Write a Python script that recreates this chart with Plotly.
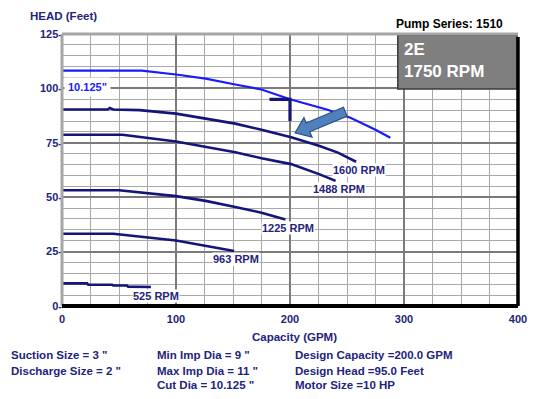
import plotly.graph_objects as go

# ---------------- data ----------------
q_cut = [0, 70, 100, 126, 152, 175, 200, 233, 253, 275, 288]
h_cut = [108.2, 108.2, 106.4, 104.5, 101.8, 99.5, 95.0, 90.2, 86.5, 81.0, 77.3]

q_1600 = [0, 40, 42, 45, 68, 100, 126, 152, 175, 201, 226, 242, 258]
h_1600 = [90.3, 90.3, 91.0, 90.3, 90.0, 88.4, 86.1, 83.8, 81.0, 77.5, 73.5, 70.5, 66.3]

q_1488 = [0, 53, 100, 126, 152, 175, 201, 226, 240]
h_1488 = [78.7, 78.7, 75.6, 73.3, 70.7, 67.9, 65.2, 60.5, 57.5]

q_1225 = [0, 50, 100, 126, 152, 175, 196]
h_1225 = [53.2, 53.2, 50.5, 48.3, 45.5, 42.9, 39.7]

q_963 = [0, 45, 100, 126, 151]
h_963 = [33.2, 33.2, 30.1, 27.8, 25.3]

q_525 = [0, 22, 23, 44, 45, 57, 58, 78]
h_525 = [10.4, 10.4, 9.8, 9.8, 9.4, 9.4, 8.9, 8.7]

speed_labels = ["1600 RPM", "1488 RPM", "1225 RPM", "963 RPM", "525 RPM"]
cut_label = '10.125"'

design_capacity = 200.0
design_head = 95.0
marker_q_start = 182
marker_h_end = 85

arrow_tail = (248.5, 89.3)
arrow_tip = (204.5, 79.6)

x_ticks = [0, 100, 200, 300, 400]
y_ticks = [0, 25, 50, 75, 100, 125]
y_ticktext = [f"{v}-" for v in y_ticks]

pump_series = "Pump Series: 1510"
model_text = ["2E", "1750 RPM"]
x_title = "Capacity (GPM)"
y_title = "HEAD (Feet)"

info_col1 = ['Suction Size = 3 "', 'Discharge Size = 2 "']
info_col2 = ['Min Imp Dia = 9 "', 'Max Imp Dia = 11 "', 'Cut Dia = 10.125 "']
info_col3 = ["Design Capacity =200.0 GPM", "Design Head =95.0 Feet", "Motor Size =10 HP"]

# ---------------- layout constants ----------------
OFF = 8  # default page body margin
PAGE_W, PAGE_H = 539, 399
PL, PR, PT, PB = 62, 521, 34, 306  # plot area in page pixels
W, H = PAGE_W - OFF, PAGE_H - OFF
ML, MT = PL - OFF, PT - OFF
MR, MB = PAGE_W - PR, PAGE_H - PB
PW, PH = PR - PL, PB - PT
XR, YR = [0, 400], [0, 125]
NAVY = "#14147a"
TXT = "#23237d"
BLUE = "#1a1aff"
FONT = "Liberation Sans, Arial, sans-serif"

def px_x(px):  # page pixel -> paper x
    return (px - PL) / PW

def px_y(py):  # page pixel -> paper y
    return (PB - py) / PH

fig = go.Figure()

curves = [
    (q_1600, h_1600), (q_1488, h_1488), (q_1225, h_1225), (q_963, h_963), (q_525, h_525)
]
for (qq, hh) in curves:
    fig.add_trace(go.Scatter(x=qq, y=hh, mode="lines",
                             line=dict(color=NAVY, width=2.6), hoverinfo="skip"))
fig.add_trace(go.Scatter(x=q_cut, y=h_cut, mode="lines",
                         line=dict(color=BLUE, width=2.2), hoverinfo="skip"))

# design point marker
fig.add_trace(go.Scatter(x=[marker_q_start, design_capacity, design_capacity],
                         y=[design_head, design_head, marker_h_end], mode="lines",
                         line=dict(color=NAVY, width=3.2), hoverinfo="skip"))

annotations = []
for (qq, hh), lab, xs in zip(curves, speed_labels, [3, 3, 3, 2, 5]):
    annotations.append(dict(x=qq[-1], y=hh[-1], xref="x", yref="y", text=lab,
                            showarrow=False, xanchor="center", yanchor="middle",
                            xshift=xs, yshift=-8.5, bgcolor="white", borderpad=0,
                            font=dict(family=FONT, size=11, color=TXT, weight="bold")))
annotations.append(dict(x=q_cut[0], y=h_cut[0], xref="x", yref="y", text=cut_label,
                        showarrow=False, xanchor="left", yanchor="middle",
                        xshift=2, yshift=-16, bgcolor="white", borderpad=3,
                        font=dict(family=FONT, size=11, color=BLUE, weight="bold")))

# titles and header text
annotations.append(dict(x=px_x(28), y=px_y(16), xref="paper", yref="paper", text=y_title,
                        showarrow=False, xanchor="left", yanchor="middle",
                        font=dict(family=FONT, size=11.5, color=TXT, weight="bold")))
annotations.append(dict(x=px_x(508), y=px_y(24), xref="paper", yref="paper", text=pump_series,
                        showarrow=False, xanchor="right", yanchor="middle",
                        font=dict(family=FONT, size=12, color="black", weight="bold")))
annotations.append(dict(x=px_x(296.5), y=px_y(337), xref="paper", yref="paper", text=x_title,
                        showarrow=False, xanchor="center", yanchor="middle",
                        font=dict(family=FONT, size=11.5, color=TXT, weight="bold")))
annotations.append(dict(x=px_x(404), y=px_y(61), xref="paper", yref="paper",
                        text="<br>".join(model_text), align="left",
                        showarrow=False, xanchor="left", yanchor="middle",
                        font=dict(family=FONT, size=17, color="white", weight="bold")))

rows_y = [355, 371, 385]
for col, xpx in [(info_col1, 9), (info_col2, 156), (info_col3, 295)]:
    for txt, ypx in zip(col, rows_y):
        annotations.append(dict(x=px_x(xpx), y=px_y(ypx), xref="paper", yref="paper",
                                text=txt, showarrow=False, xanchor="left", yanchor="middle",
                                font=dict(family=FONT, size=11.5, color=TXT, weight="bold")))

# arrow polygon (pixel geometry converted to data units)
sx, sy = PW / (XR[1] - XR[0]), PH / (YR[1] - YR[0])
tx, ty = arrow_tail[0] * sx, arrow_tail[1] * sy
hx, hy = arrow_tip[0] * sx, arrow_tip[1] * sy
dx, dy = hx - tx, hy - ty
L = (dx ** 2 + dy ** 2) ** 0.5
ux, uy = dx / L, dy / L
nx, ny = -uy, ux
sw, hw, hl = 4.8, 10.5, 14
bx, by = hx - ux * hl, hy - uy * hl
pts = [(tx + nx * sw, ty + ny * sw), (bx + nx * sw, by + ny * sw), (bx + nx * hw, by + ny * hw),
       (hx, hy), (bx - nx * hw, by - ny * hw), (bx - nx * sw, by - ny * sw),
       (tx - nx * sw, ty - ny * sw)]
path = "M " + " L ".join(f"{px / sx:.3f},{py / sy:.3f}" for px, py in pts) + " Z"

shapes = [
    dict(type="rect", xref="paper", yref="paper", x0=px_x(400), x1=px_x(520),
         y0=px_y(89), y1=px_y(35), fillcolor="#7f7f7f",
         line=dict(color="#3a3a3a", width=1.5), layer="above"),
    dict(type="path", xref="x", yref="y", path=path, fillcolor="#4f81bd",
         line=dict(color="#2f5082", width=1.2), layer="above"),
    # frame
    dict(type="line", xref="paper", yref="paper", x0=0, x1=1, y0=1, y1=1,
         line=dict(color="#a6a6a6", width=3), layer="above"),
    dict(type="line", xref="paper", yref="paper", x0=0, x1=0, y0=0, y1=1,
         line=dict(color="#a6a6a6", width=3), layer="above"),
    dict(type="line", xref="paper", yref="paper", x0=0, x1=1, y0=0, y1=0,
         line=dict(color="black", width=4), layer="above"),
    dict(type="line", xref="paper", yref="paper", x0=1, x1=1, y0=0, y1=px_y(37),
         line=dict(color="black", width=3.5), layer="above"),
]

fig.update_layout(
    width=W, height=H, margin=dict(l=ML, r=MR, t=MT, b=MB, pad=0),
    paper_bgcolor="white", plot_bgcolor="white", showlegend=False,
    annotations=annotations, shapes=shapes,
    font=dict(family=FONT, color=TXT),
)
fig.update_xaxes(range=XR, tickvals=x_ticks, ticks="", showline=False, zeroline=False,
                 ticklabelstandoff=5,
                 showgrid=True, gridcolor="#7a7a7a", gridwidth=1.6,
                 minor=dict(dtick=25, showgrid=True, gridcolor="#a8a8a8", gridwidth=1.3),
                 tickfont=dict(family=FONT, size=11, color=TXT, weight="bold"))
fig.update_yaxes(range=YR, tickvals=y_ticks, ticktext=y_ticktext, ticks="", showline=False,
                 zeroline=False, ticklabelstandoff=-1,
                 showgrid=True, gridcolor="#7a7a7a", gridwidth=1.6,
                 minor=dict(dtick=5, showgrid=True, gridcolor="#a8a8a8", gridwidth=1.3),
                 tickfont=dict(family=FONT, size=11, color=TXT, weight="bold"))

fig.write_html("out.html")
